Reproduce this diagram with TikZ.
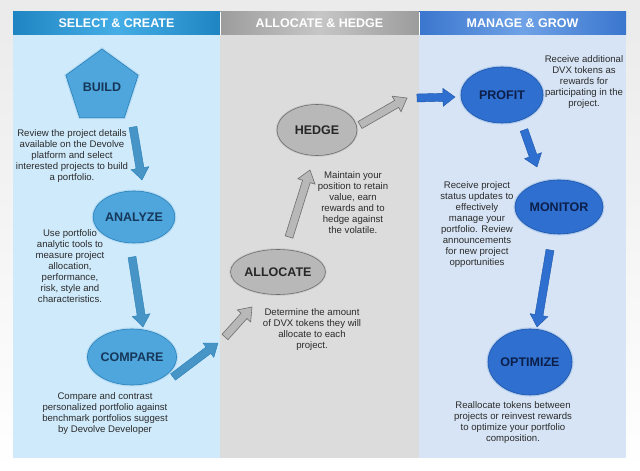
\documentclass[tikz,border=0pt]{standalone}
\usepackage{fontspec}
\setmainfont{Liberation Sans}
\usepackage{tikz}
\usetikzlibrary{calc, shapes.geometric}

\definecolor{selectbody}{HTML}{CFEAFB}
\definecolor{selecthead}{HTML}{1F85C2}
\definecolor{selectlight}{HTML}{45AEE6}
\definecolor{hedgebody}{HTML}{DCDCDC}
\definecolor{hedgehead}{HTML}{9C9C9C}
\definecolor{hedgelight}{HTML}{C6C6C6}
\definecolor{growbody}{HTML}{D6E4F5}
\definecolor{growhead}{HTML}{3A76CE}
\definecolor{growlight}{HTML}{6FA2E6}
\definecolor{stepblue}{HTML}{4EA6DC}
\definecolor{stepblueline}{HTML}{2A7FB8}
\definecolor{stepgray}{HTML}{B8B8B8}
\definecolor{stepgrayline}{HTML}{6E6E6E}
\definecolor{stepdeep}{HTML}{2F6FCF}
\definecolor{stepdeepline}{HTML}{1A55A8}
\definecolor{labelnavy}{HTML}{16375A}
\definecolor{labeldeep}{HTML}{0C1F4A}
\definecolor{bodytext}{HTML}{2B2B2B}

% block arrow from #2 to #3, drawn with style #1
\newcommand{\blockarrow}[3]{%
  \path[#1] let \p1=#2, \p2=#3, \n1={atan2(\y2-\y1,\x2-\x1)}, \n2={veclen(\x2-\x1,\y2-\y1)} in
    {[shift={(\p1)}, rotate=\n1] (0,-4) -- (\n2-12,-4) -- (\n2-12,-9) -- (\n2,0) -- (\n2-12,9) -- (\n2-12,4) -- (0,4) -- cycle};}

\tikzset{
  panelhead/.style={font=\bfseries\fontsize{12.5}{14}\selectfont, text=white},
  blurb/.style={align=center, text=bodytext, font=\fontsize{9.6}{11}\selectfont},
  stepnode/.style={ellipse, inner sep=0pt, line width=0.6pt, font=\bfseries\fontsize{12.5}{14}\selectfont},
  selectstep/.style={stepnode, fill=stepblue, draw=stepblueline, text=labelnavy,
    preaction={draw=stepblue!70, line width=3pt, opacity=0.35}},
  hedgestep/.style={stepnode, fill=stepgray, draw=stepgrayline, text=black!85,
    preaction={draw=black!40, line width=2.5pt, opacity=0.3}},
  growstep/.style={stepnode, fill=stepdeep, draw=stepdeepline, text=labeldeep,
    preaction={draw=stepdeep!70, line width=3pt, opacity=0.35}},
  selectarrow/.style={fill=stepblue!90!black, draw=stepblueline, line width=0.4pt},
  hedgearrow/.style={fill=stepgray, draw=stepgrayline, line width=0.6pt},
  growarrow/.style={fill=stepdeep, draw=stepdeepline, line width=0.4pt}
}

\begin{document}
\begin{tikzpicture}[x=1pt, y=1pt]
\useasboundingbox (0,0) rectangle (640,471);
\shade[top color=black!8, bottom color=white] (0,0) rectangle (640,471);

% columns
\fill[selectbody] (13,13) rectangle (220,436);
\fill[hedgebody] (220,13) rectangle (419,436);
\fill[growbody] (419,13) rectangle (626,436);
\shade[left color=selecthead, right color=selecthead, middle color=selectlight] (13,436) rectangle (220,459);
\shade[left color=hedgehead, right color=hedgehead, middle color=hedgelight] (220,436) rectangle (419,459);
\shade[left color=growhead, right color=growhead, middle color=growlight] (419,436) rectangle (626,459);
\draw[white, line width=0.8pt] (220,436) -- (220,459) (419,436) -- (419,459);

\node[panelhead] (selecthd) at (116.5,447.5) {SELECT \& CREATE};
\node[panelhead] (hedgehd) at (319.5,447.5) {ALLOCATE \& HEDGE};
\node[panelhead] (growhd) at (522.5,447.5) {MANAGE \& GROW};

% select & create
\node[selectstep, regular polygon, regular polygon sides=5, minimum size=76pt] (build) at (102,384) {BUILD};
\node[blurb] (buildnote) at (72,315) {Review the project details\\available on the Devolve\\platform and select\\interested projects to build\\a portfolio.};
\node[selectstep, minimum width=68pt, minimum height=52pt] (analyze) at (134,254) {ANALYZE};
\node[blurb] (analyzenote) at (70,205) {Use portfolio\\analytic tools to\\measure project\\allocation,\\performance,\\risk, style and\\characteristics.};
\node[selectstep, minimum width=70pt, minimum height=56pt] (compare) at (132,114) {COMPARE};
\node[blurb] (comparenote) at (105,57) {Compare and contrast\\personalized portfolio against\\benchmark portfolios suggest\\by Devolve Developer};

% allocate & hedge
\node[hedgestep, minimum width=83pt, minimum height=45pt] (allocate) at (278,199) {ALLOCATE};
\node[blurb] (allocatenote) at (312,141.5) {Determine the amount\\of DVX tokens they will\\allocate to each\\project.};
\node[hedgestep, minimum width=80pt, minimum height=51pt] (hedge) at (317,341) {HEDGE};
\node[blurb] (hedgenote) at (353,268.5) {Maintain your\\position to retain\\value, earn\\rewards and to\\hedge against\\the volatile.};

% manage & grow
\node[growstep, minimum width=82pt, minimum height=56pt] (profit) at (502,376) {PROFIT};
\node[blurb] (profitnote) at (584,389) {Receive additional\\DVX tokens as\\rewards for\\participating in the\\project.};
\node[growstep, minimum width=88pt, minimum height=54pt] (monitor) at (559,264) {MONITOR};
\node[blurb] (monitornote) at (477,246.5) {Receive project\\status updates to\\effectively\\manage your\\portfolio. Review\\announcements\\for new project\\opportunities};
\node[growstep, minimum width=84pt, minimum height=66pt] (optimize) at (530,109) {OPTIMIZE};
\node[blurb] (optimizenote) at (513,48.5) {Reallocate tokens between\\projects or reinvest rewards\\to optimize your portfolio\\composition.};

% arrows
\blockarrow{selectarrow}{($(build)+(31,-40)$)}{($(analyze)+(8,37)$)}
\blockarrow{selectarrow}{($(analyze)+(-2,-40)$)}{($(compare)+(11,30)$)}
\blockarrow{selectarrow}{($(compare)+(41,-20)$)}{($(allocate)+(-60,-71)$)}
\blockarrow{hedgearrow}{($(compare)+(93,20)$)}{($(allocate)+(-26,-35)$)}
\blockarrow{hedgearrow}{($(allocate)+(11,35)$)}{($(hedge)+(-7,-40)$)}
\blockarrow{hedgearrow}{($(hedge)+(43,5)$)}{($(profit)+(-95,-3)$)}
\blockarrow{growarrow}{($(hedge)+(100,32)$)}{($(profit)+(-47,-2)$)}
\blockarrow{growarrow}{($(profit)+(22,-35)$)}{($(monitor)+(-22,40)$)}
\blockarrow{growarrow}{($(monitor)+(-9,-43)$)}{($(optimize)+(7,35)$)}
\end{tikzpicture}
\end{document}
